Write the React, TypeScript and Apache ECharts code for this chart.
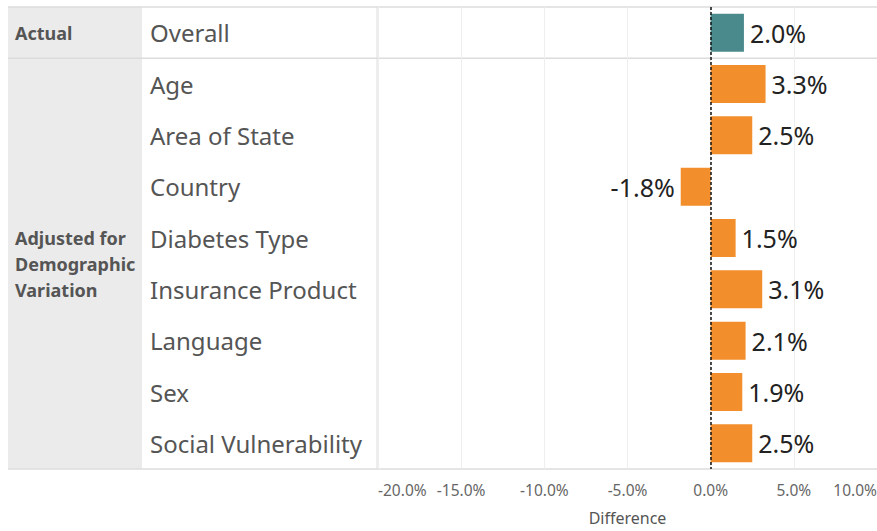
import React, { useEffect, useRef } from "react";
import * as echarts from "echarts";

const categories = [
  "Overall",
  "Age",
  "Area of State",
  "Country",
  "Diabetes Type",
  "Insurance Product",
  "Language",
  "Sex",
  "Social Vulnerability",
];
const values = [0.02, 0.033, 0.025, -0.018, 0.015, 0.031, 0.021, 0.019, 0.025];
const groups = ["Actual", "Adjusted for\nDemographic\nVariation"];
const axisName = "Difference";

const FONT = "'Noto Sans', 'Open Sans', sans-serif";

export default function App() {
  const ref = useRef<HTMLDivElement>(null);
  useEffect(() => {
    const chart = echarts.init(ref.current!, null, { renderer: "svg" });
    const top = 7;
    const bottom = 469;
    const rowH = (bottom - top) / categories.length;
    const lineColor = "#dcdcdc";
    chart.setOption({
      animation: false,
      backgroundColor: "#ffffff",
      textStyle: { fontFamily: FONT },
      grid: {
        left: 378,
        right: 0,
        top: top,
        bottom: 531 - bottom,
        containLabel: false,
        outerBoundsMode: "none",
      },
      xAxis: {
        type: "value",
        min: -0.2,
        max: 0.1,
        interval: 0.05,
        name: axisName,
        nameLocation: "middle",
        nameGap: 41,
        nameMoveOverlap: false,
        nameTextStyle: { color: "#555", fontSize: 16, fontFamily: FONT },
        axisLine: { show: false },
        axisTick: { show: false },
        splitLine: { show: true, lineStyle: { color: "#eeeeee", width: 1 } },
        axisLabel: {
          color: "#666",
          fontSize: 15.5,
          margin: 13,
          fontFamily: FONT,
          alignMinLabel: "left",
          alignMaxLabel: "right",
          formatter: (v: number) => (v * 100).toFixed(1) + "%",
        },
      },
      yAxis: {
        type: "category",
        inverse: true,
        data: categories,
        axisLine: { show: false },
        axisTick: { show: false },
        splitLine: { show: false },
        axisLabel: {
          align: "left",
          margin: 228,
          color: "#555",
          fontSize: 24,
          fontFamily: FONT,
        },
      },
      graphic: [
        { type: "rect", shape: { x: 8, y: top, width: 134, height: rowH }, style: { fill: "#ebebeb" }, z: -10 },
        { type: "rect", shape: { x: 8, y: top + rowH, width: 134, height: bottom - top - rowH }, style: { fill: "#ebebeb" }, z: -10 },
        { type: "line", shape: { x1: 8, y1: top, x2: 877, y2: top }, style: { stroke: lineColor, lineWidth: 1.5 } },
        { type: "line", shape: { x1: 8, y1: top + rowH, x2: 877, y2: top + rowH }, style: { stroke: lineColor, lineWidth: 1.5 } },
        { type: "line", shape: { x1: 8, y1: bottom, x2: 877, y2: bottom }, style: { stroke: lineColor, lineWidth: 1.5 } },
        { type: "line", shape: { x1: 377, y1: top, x2: 377, y2: bottom }, style: { stroke: lineColor, lineWidth: 1 } },
        {
          type: "text",
          x: 15,
          y: top + rowH / 2,
          style: { text: groups[0], fill: "#555", font: `bold 18px ${FONT}`, verticalAlign: "middle" },
        },
        {
          type: "text",
          x: 15,
          y: 264,
          style: {
            text: groups[1],
            fill: "#555",
            font: `bold 18px ${FONT}`,
            lineHeight: 26,
            verticalAlign: "middle",
          },
        },
      ],
      series: [
        {
          type: "bar",
          barWidth: 38,
          data: values.map((v, i) => ({
            value: v,
            itemStyle: { color: i === 0 ? "#4a8a8c" : "#f28e2b" },
            label: { position: v < 0 ? "left" : "right" },
          })),
          label: {
            show: true,
            color: "#222",
            fontSize: 25,
            fontFamily: FONT,
            distance: 6,
            formatter: (p: any) => (p.value * 100).toFixed(1) + "%",
          },
          markLine: {
            silent: true,
            symbol: "none",
            label: { show: false },
            lineStyle: { color: "#111", type: [3, 2], width: 1.5 },
            data: [{ xAxis: 0 }],
          },
        },
      ],
    });
    return () => chart.dispose();
  }, []);
  return <div ref={ref} style={{ position: "fixed", left: 0, top: 0, width: 877, height: 531 }} />;
}
